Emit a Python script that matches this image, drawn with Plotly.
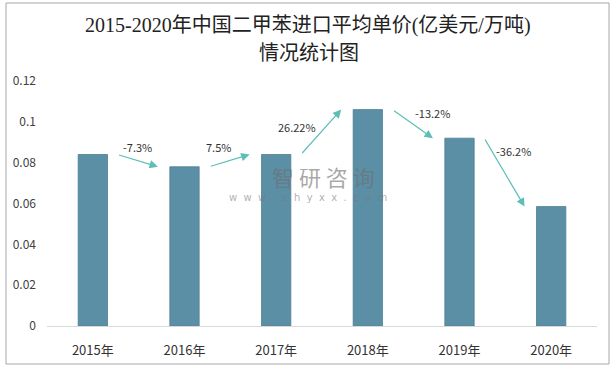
import plotly.graph_objects as go

# ---- data ----
years = ["2015年", "2016年", "2017年", "2018年", "2019年", "2020年"]
price = [0.084, 0.078, 0.084, 0.106, 0.092, 0.0585]
growth_labels = ["-7.3%", "7.5%", "26.22%", "-13.2%", "-36.2%"]
y_tickvals = [0, 0.02, 0.04, 0.06, 0.08, 0.10, 0.12]
y_ticktext = ["0", "0.02", "0.04", "0.06", "0.08", "0.1", "0.12"]

# ---- layout geometry (pixels) ----
W, H = 615, 370
L, R, T, B = 47, 18, 81, 44
PW, PH = W - L - R, H - T - B

def px(xp):
    return (xp - L) / PW

def py(yp):
    return (H - B - yp) / PH

BAR = "#5b8fa6"
ARROW = "#5cbfb6"
CJK = "Noto Sans CJK SC"

fig = go.Figure()
fig.add_trace(go.Bar(
    x=years, y=price,
    marker=dict(color=BAR, line=dict(color="#4f7f96", width=0.8)),
    width=0.32,
    hoverinfo="skip",
))

annotations = []
# label pixel offsets (dx, dy) relative to the arrow midpoint
label_shift = [(0, 14), (-11, 14), (-24, 5), (20, 11), (9, 21)]
for i, lab in enumerate(growth_labels):
    x0, y0 = i + 0.27, price[i]
    x1, y1 = i + 0.71, price[i + 1]
    annotations.append(dict(
        x=x1, y=y1, ax=x0, ay=y0, xref="x", yref="y", axref="x", ayref="y",
        text="", showarrow=True, arrowhead=2, arrowsize=1.4, arrowwidth=1.2,
        arrowcolor=ARROW, standoff=0, startstandoff=0,
    ))
    dx, dy = label_shift[i]
    annotations.append(dict(
        x=(x0 + x1) / 2, y=(y0 + y1) / 2, xref="x", yref="y",
        xshift=dx, yshift=dy, text=lab, showarrow=False,
        font=dict(family=CJK, size=11, color="#333333"),
    ))

# title lines
TFONT = dict(family="Liberation Serif, " + CJK, size=20, color="#222222")
annotations.append(dict(
    x=px(308), y=py(26), xref="paper", yref="paper",
    text="2015-2020年中国二甲苯进口平均单价(亿美元/万吨)", showarrow=False,
    font=TFONT, xanchor="center", yanchor="middle",
))
annotations.append(dict(
    x=px(309), y=py(53), xref="paper", yref="paper",
    text="情况统计图", showarrow=False,
    font=TFONT, xanchor="center", yanchor="middle",
))
# watermark
annotations.append(dict(
    x=px(323), y=py(176), xref="paper", yref="paper",
    text="智 研 咨 询", showarrow=False,
    font=dict(family=CJK, size=22, color="rgba(110,110,110,0.6)"),
    xanchor="center", yanchor="middle",
))
annotations.append(dict(
    x=px(308), y=py(197), xref="paper", yref="paper",
    text="w  w  w  .  c  h  y  x  x  .  c  o  m", showarrow=False,
    font=dict(family="DejaVu Sans", size=10, color="rgba(120,120,120,0.6)"),
    xanchor="center", yanchor="middle",
))

shapes = [dict(
    type="rect", xref="paper", yref="paper",
    x0=px(6), x1=px(609), y0=py(364), y1=py(3),
    line=dict(color="#a6a6a6", width=1), fillcolor="rgba(0,0,0,0)", layer="below",
)]

fig.update_layout(
    width=W, height=H,
    margin=dict(l=L, r=R, t=T, b=B, pad=0),
    paper_bgcolor="white", plot_bgcolor="white",
    showlegend=False,
    annotations=annotations,
    shapes=shapes,
    xaxis=dict(
        type="category", showgrid=False, showline=True, linecolor="#d9d9d9",
        linewidth=1, ticks="", ticklabelstandoff=12,
        tickfont=dict(family=CJK, size=13, color="#333333"),
        range=[-0.5, 5.5], fixedrange=True, zeroline=False,
    ),
    yaxis=dict(
        range=[0, 0.12], showgrid=False, showline=False, zeroline=False,
        tickvals=y_tickvals, ticktext=y_ticktext, ticks="",
        ticklabelstandoff=10,
        tickfont=dict(family=CJK, size=12, color="#404040"),
        fixedrange=True,
    ),
)

fig.write_html("out.html", config={"displayModeBar": False},
               post_script="document.body.style.margin='0';")
